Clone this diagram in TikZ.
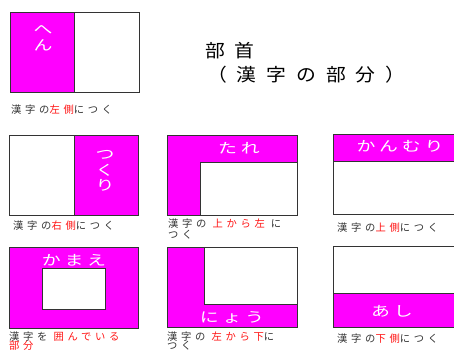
\documentclass[tikz,border=0pt]{standalone}
\usepackage{fontspec}
\setmainfont{Noto Sans CJK JP}
\newfontfamily\jlab[LetterSpace=36]{Noto Sans CJK JP}
\newfontfamily\jbox[LetterSpace=20]{Noto Sans CJK JP}
\newfontfamily\jtitle[LetterSpace=50]{Noto Sans CJK JP}
\definecolor{mag}{RGB}{255,0,255}
\definecolor{lred}{RGB}{255,20,20}
\begin{document}
\begin{tikzpicture}[x=1pt,y=-1pt,
  bx/.style={draw=black!80, line width=0.9pt},
  mg/.style={fill=mag},
  wt/.style={text=white, inner sep=0pt, font=\jbox\fontsize{14}{15.5}\selectfont},
  wv/.style={text=white, inner sep=0pt, align=center, font=\jbox\fontsize{14}{15.5}\selectfont},
  lab/.style={anchor=west, inner sep=0pt, text=black!80, font=\jlab\fontsize{10.3}{10}\selectfont},
  ttl/.style={anchor=west, inner sep=0pt, text=black, font=\jtitle\fontsize{18}{19}\selectfont}]
\useasboundingbox (0,0) rectangle (454,351);
\fill[white] (0,0) rectangle (454,351);

% Box 1: hen
\fill[mg] (10,12) rectangle (74,92);
\draw[bx] (10,12) rectangle (139,92);
\draw[bx] (74,12) -- (74,92);
\node[wv] (hen) at (43,38) {\scalebox{1.35}[1]{へ}\\\scalebox{1.35}[1]{ん}};
\node[lab] (l1) at (11,110) {漢字の\textcolor{lred}{左側}につく};

% Title
\node[ttl] (t1) at (205,51) {\scalebox{1.1}[1]{部首}};
\node[ttl] (t2) at (207,75) {\scalebox{1.1}[1]{（漢字の部分）}};

% Box 2: tsukuri
\fill[mg] (74,135) rectangle (138,215);
\draw[bx] (9,135) rectangle (138,215);
\draw[bx] (74,135) -- (74,215);
\node[wv] (tsukuri) at (105,171) {\scalebox{1.35}[1]{つ}\\\scalebox{1.35}[1]{く}\\\scalebox{1.35}[1]{り}};
\node[lab] (l2) at (13,226) {漢字の\textcolor{lred}{右側}につく};

% Box 3: tare
\fill[mg] (167,135) -- (297,135) -- (297,162) -- (200,162) -- (200,215) -- (167,215) -- cycle;
\draw[bx] (167,135) rectangle (297,215);
\draw[bx] (297,162) -- (200,162) -- (200,215);
\node[wt] (tare) at (239,148) {\scalebox{1.35}[1]{たれ}};
\node[lab] (l3a) at (168,224) {漢字の \textcolor{lred}{上から左} に};
\node[lab] (l3b) at (168,235) {つく};

% Box 4: kanmuri
\fill[mg] (333,134) rectangle (456,161);
\draw[bx] (456,134) -- (333,134) -- (333,214) -- (456,214);
\draw[bx] (333,161) -- (456,161);
\node[wt] (kanmuri) at (400,146) {\scalebox{1.35}[1]{かんむり}};
\node[lab] (l4) at (337,228) {漢字の\textcolor{lred}{上側}につく};

% Box 5: kamae
\fill[mg] (9,247) rectangle (138,328);
\draw[bx] (9,247) rectangle (138,328);
\fill[white] (42,268) rectangle (105,309);
\draw[bx] (42,268) rectangle (105,309);
\node[wt] (kamae) at (74,260) {\scalebox{1.35}[1]{かまえ}};
\node[lab] (l5a) at (9,337) {漢字を \textcolor{lred}{囲んでいる}};
\node[lab] (l5b) at (9,346) {\textcolor{lred}{部分}};

% Box 6: nyou
\fill[mg] (167,247) -- (204,247) -- (204,304) -- (297,304) -- (297,327) -- (167,327) -- cycle;
\draw[bx] (167,247) rectangle (297,327);
\draw[bx] (204,247) -- (204,304) -- (297,304);
\node[wt] (nyou) at (232,317) {\scalebox{1.35}[1]{にょう}};
\node[lab] (l6a) at (167,337) {漢字の \textcolor{lred}{左から下}に};
\node[lab] (l6b) at (167,346) {つく};

% Box 7: ashi
\fill[mg] (333,293) rectangle (456,327);
\draw[bx] (456,246) -- (333,246) -- (333,327) -- (456,327);
\draw[bx] (333,293) -- (456,293);
\node[wt] (ashi) at (392,311) {\scalebox{1.35}[1]{あし}};
\node[lab] (l7) at (337,339) {漢字の\textcolor{lred}{下側}につく};
\end{tikzpicture}
\end{document}
